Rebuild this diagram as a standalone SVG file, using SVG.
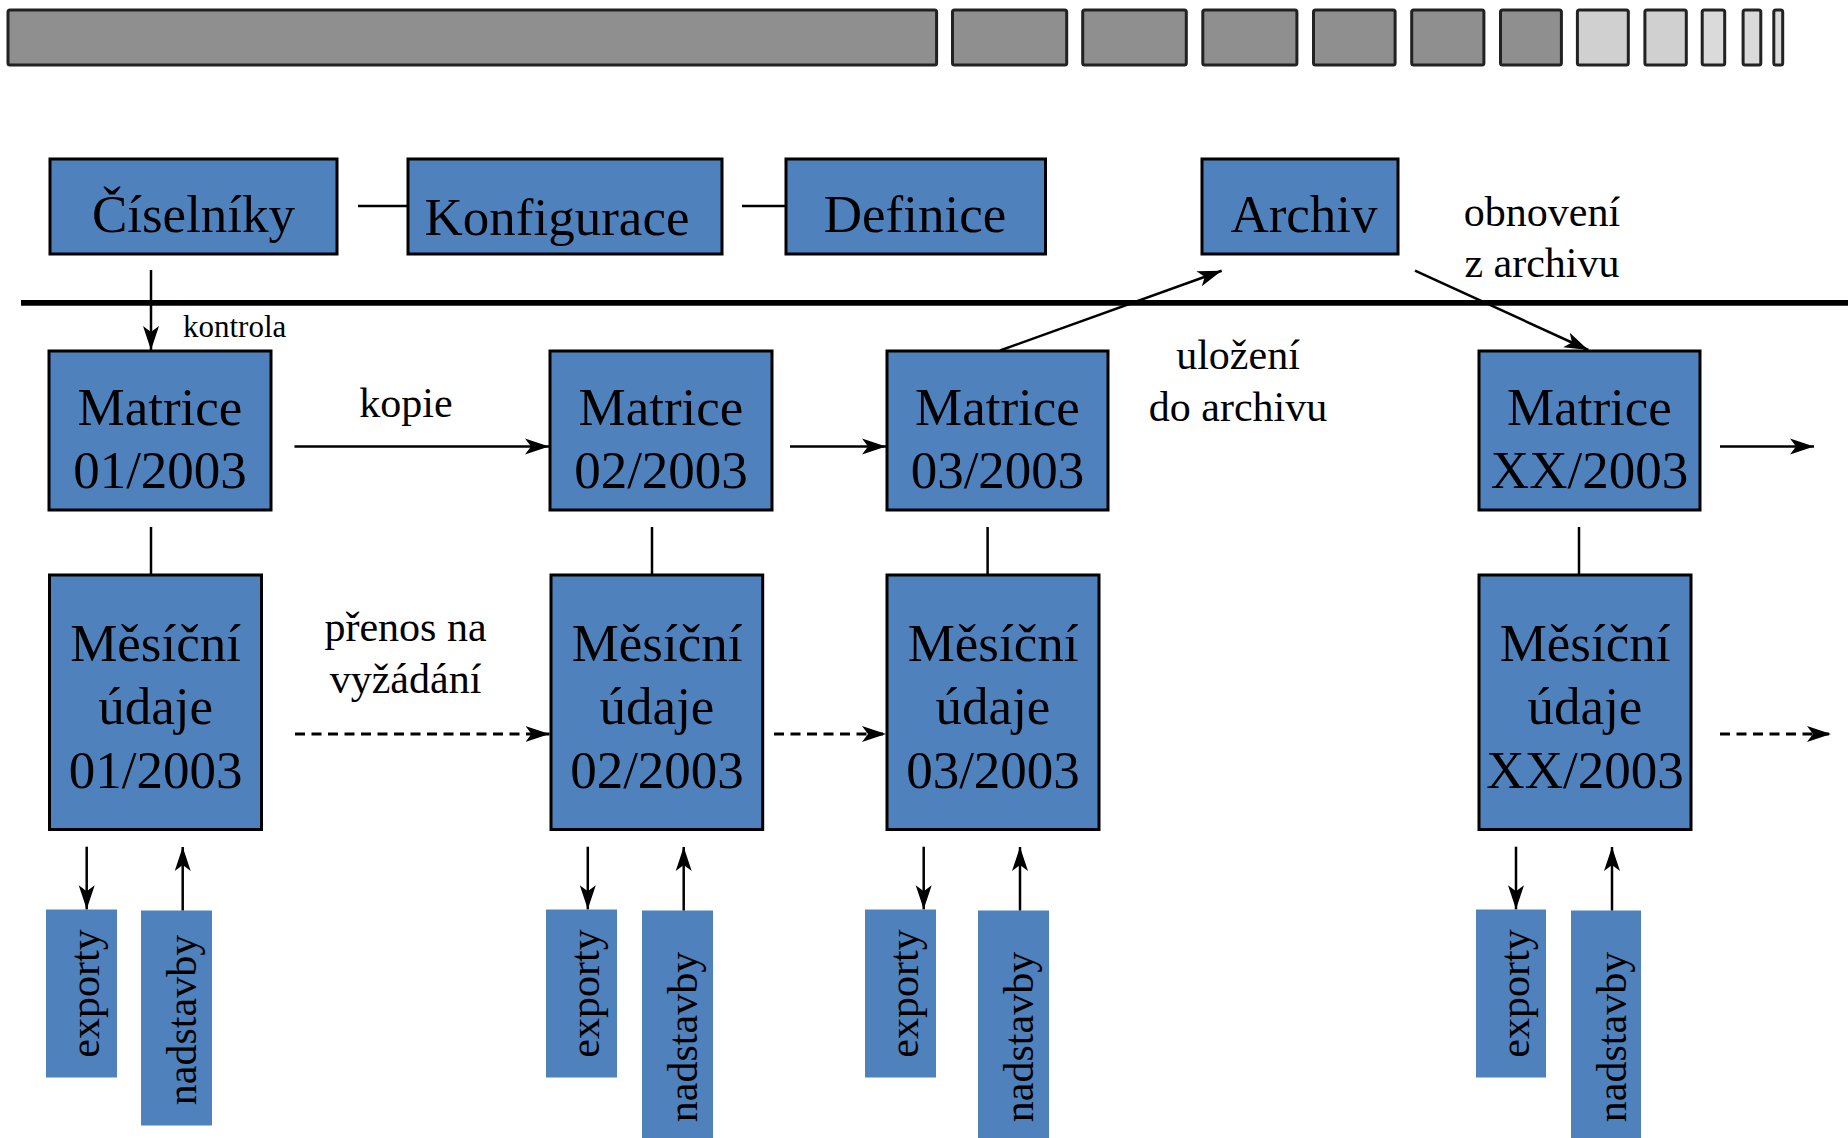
<svg xmlns="http://www.w3.org/2000/svg" width="1848" height="1138" viewBox="0 0 1848 1138">
<defs>
<style>
.box{fill:#4f81bd;stroke:#000;stroke-width:3}
.tab{fill:#4f81bd}
.t{font-family:"Liberation Serif","Times New Roman",serif;fill:#000}
.big{font-size:53px;text-anchor:middle}
.lbl{font-size:42px;text-anchor:middle}
.vl{font-size:42px;text-anchor:middle}
.c{stroke:#000;stroke-width:2.5;fill:none}
.a{marker-end:url(#ah)}
.dash{stroke-dasharray:10 6.5;stroke-width:3}
.bar{fill:#8f8f8f;stroke:#222;stroke-width:3}
.bar2{fill:#d0d0d0;stroke:#222;stroke-width:3}
.bar3{fill:#dadada;stroke:#222;stroke-width:3}
</style>
<marker id="ah" viewBox="0 -9 26 18" markerWidth="26" markerHeight="18" refX="24" refY="0" orient="auto" markerUnits="userSpaceOnUse">
<path d="M0,-8 L24,0 L0,8 L6,0 Z" fill="#000"/>
</marker>
</defs>
<rect width="1848" height="1138" fill="#fff"/>

<g id="timeline">
<rect class="bar" x="8" y="10" width="928.6" height="55" rx="2"/>
<rect class="bar" x="952.5" y="10" width="114.2" height="55" rx="2"/>
<rect class="bar" x="1082.7" y="10" width="103.6" height="55" rx="2"/>
<rect class="bar" x="1202.8" y="10" width="94.1" height="55" rx="2"/>
<rect class="bar" x="1313.5" y="10" width="81.6" height="55" rx="2"/>
<rect class="bar" x="1411.7" y="10" width="72.2" height="55" rx="2"/>
<rect class="bar" x="1500.5" y="10" width="60.9" height="55" rx="2"/>
<rect class="bar2" x="1577.4" y="10" width="50.9" height="55" rx="2"/>
<rect class="bar2" x="1644.9" y="10" width="41.4" height="55" rx="2"/>
<rect class="bar3" x="1702.2" y="10" width="22.5" height="55" rx="2"/>
<rect class="bar3" x="1743.1" y="10" width="17.7" height="55" rx="2"/>
<rect class="bar3" x="1773.8" y="10" width="8.9" height="55" rx="2"/>
</g>

<g id="divider">
<line x1="21" y1="302.8" x2="1848" y2="302.8" stroke="#000" stroke-width="5.7"/>
</g>

<g id="ciselniky"><rect class="box" x="50" y="159" width="287" height="95"/><text class="t big" x="193.5" y="231.7">Číselníky</text></g>
<g id="konfigurace"><rect class="box" x="408" y="159" width="314" height="95"/><text class="t big" x="557" y="235">Konfigurace</text></g>
<g id="definice"><rect class="box" x="786" y="159" width="259.5" height="95"/><text class="t big" x="915" y="231.7">Definice</text></g>
<g id="archiv"><rect class="box" x="1202" y="159" width="196" height="95"/><text class="t big" x="1304" y="231.7">Archiv</text></g>

<g id="matrice01"><rect class="box" x="49" y="351" width="222" height="159"/><text class="t big" x="160" y="425">Matrice</text><text class="t big" x="160" y="488">01/2003</text></g>
<g id="matrice02"><rect class="box" x="550" y="351" width="222" height="159"/><text class="t big" x="661" y="425">Matrice</text><text class="t big" x="661" y="488">02/2003</text></g>
<g id="matrice03"><rect class="box" x="887" y="351" width="221" height="159"/><text class="t big" x="997.5" y="425">Matrice</text><text class="t big" x="997.5" y="488">03/2003</text></g>
<g id="matriceXX"><rect class="box" x="1479" y="351" width="221" height="159"/><text class="t big" x="1589.5" y="425">Matrice</text><text class="t big" x="1589.5" y="488">XX/2003</text></g>

<g id="mesicni01"><rect class="box" x="49.5" y="575" width="212" height="254.5"/><text class="t big" x="155.6" y="661">Měsíční</text><text class="t big" x="155.6" y="724">údaje</text><text class="t big" x="155.6" y="788">01/2003</text></g>
<g id="mesicni02"><rect class="box" x="551" y="575" width="211.7" height="254.5"/><text class="t big" x="657" y="661">Měsíční</text><text class="t big" x="657" y="724">údaje</text><text class="t big" x="657" y="788">02/2003</text></g>
<g id="mesicni03"><rect class="box" x="887" y="575" width="212" height="254.5"/><text class="t big" x="993" y="661">Měsíční</text><text class="t big" x="993" y="724">údaje</text><text class="t big" x="993" y="788">03/2003</text></g>
<g id="mesicniXX"><rect class="box" x="1479" y="575" width="212" height="254.5"/><text class="t big" x="1585" y="661">Měsíční</text><text class="t big" x="1585" y="724">údaje</text><text class="t big" x="1585" y="788">XX/2003</text></g>

<g id="exporty01"><rect class="tab" x="46" y="909.5" width="71" height="168"/><text class="t vl" transform="translate(99,993.5) rotate(-90)">exporty</text></g>
<g id="nadstavby01"><rect class="tab" x="141" y="910.5" width="71" height="215"/><text class="t vl" transform="translate(196,1020) rotate(-90)">nadstavby</text></g>
<g id="exporty02"><rect class="tab" x="546" y="909.5" width="71" height="168"/><text class="t vl" transform="translate(599,993.5) rotate(-90)">exporty</text></g>
<g id="nadstavby02"><rect class="tab" x="642" y="910.5" width="71" height="228"/><text class="t vl" transform="translate(697,1037) rotate(-90)">nadstavby</text></g>
<g id="exporty03"><rect class="tab" x="865" y="909.5" width="71" height="168"/><text class="t vl" transform="translate(918,993.5) rotate(-90)">exporty</text></g>
<g id="nadstavby03"><rect class="tab" x="978" y="910.5" width="71" height="228"/><text class="t vl" transform="translate(1033,1037) rotate(-90)">nadstavby</text></g>
<g id="exportyXX"><rect class="tab" x="1476" y="909.5" width="70" height="168"/><text class="t vl" transform="translate(1529,993.5) rotate(-90)">exporty</text></g>
<g id="nadstavbyXX"><rect class="tab" x="1571" y="910.5" width="70" height="228"/><text class="t vl" transform="translate(1626,1037) rotate(-90)">nadstavby</text></g>

<g id="connectors">
<line class="c" x1="358" y1="206" x2="408" y2="206"/>
<line class="c" x1="742" y1="206" x2="787" y2="206"/>
<line class="c a" x1="151" y1="270" x2="151" y2="350"/>
<line class="c a" x1="294.5" y1="446.5" x2="549" y2="446.5"/>
<line class="c a" x1="790" y1="446.5" x2="886" y2="446.5"/>
<line class="c a" x1="1720" y1="446.5" x2="1814" y2="446.5"/>
<line class="c a" x1="1000" y1="350.5" x2="1221.7" y2="270.7"/>
<line class="c a" x1="1415" y1="270.7" x2="1588.3" y2="350"/>
<line class="c" x1="151" y1="527" x2="151" y2="575"/>
<line class="c" x1="652" y1="527" x2="652" y2="575"/>
<line class="c" x1="987.6" y1="527" x2="987.6" y2="575"/>
<line class="c" x1="1579" y1="527" x2="1579" y2="575"/>
<line class="c a dash" x1="295" y1="734" x2="549.5" y2="734"/>
<line class="c a dash" x1="774" y1="734" x2="886" y2="734"/>
<line class="c a dash" x1="1720" y1="734" x2="1831" y2="734"/>
<line class="c a" x1="86.7" y1="846.7" x2="86.7" y2="909.3"/>
<line class="c a" x1="182.7" y1="910.5" x2="182.7" y2="847"/>
<line class="c a" x1="587.8" y1="846.7" x2="587.8" y2="909.3"/>
<line class="c a" x1="683.7" y1="910.5" x2="683.7" y2="847"/>
<line class="c a" x1="923.7" y1="846.7" x2="923.7" y2="909.3"/>
<line class="c a" x1="1020" y1="910.5" x2="1020" y2="847"/>
<line class="c a" x1="1516" y1="846.7" x2="1516" y2="909.3"/>
<line class="c a" x1="1612" y1="910.5" x2="1612" y2="847"/>
</g>

<g id="labels">
<text class="t" x="183" y="336.5" font-size="31">kontrola</text>
<text class="t lbl" x="406" y="416.7">kopie</text>
<text class="t lbl" x="405.5" y="641">přenos na</text>
<text class="t lbl" x="405.5" y="693">vyžádání</text>
<text class="t lbl" x="1238" y="369">uložení</text>
<text class="t lbl" x="1238" y="421">do archivu</text>
<text class="t lbl" x="1542" y="225.5">obnovení</text>
<text class="t lbl" x="1542" y="276.5">z archivu</text>
</g>
</svg>
